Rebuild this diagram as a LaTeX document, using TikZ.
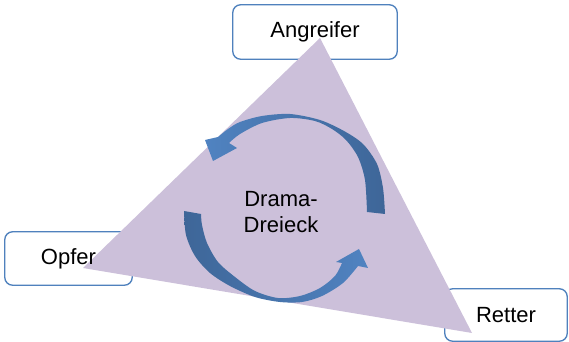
\documentclass[tikz,border=0pt]{standalone}
\usepackage{fontspec}
\setmainfont{Liberation Sans}
\definecolor{trifill}{RGB}{204,192,218}
\definecolor{boxline}{RGB}{79,129,189}
\definecolor{arrlight}{RGB}{80,131,193}
\definecolor{arrdark}{RGB}{62,102,152}
\pgfdeclarelayer{back}
\pgfdeclarelayer{mid}
\pgfsetlayers{back,mid,main}
\begin{document}
\begin{tikzpicture}[x=0.75pt,y=-0.75pt,
  lbl/.style={font=\fontsize{16.5}{19.5}\selectfont, inner sep=0pt, align=center},
  frame/.style={draw=boxline, line width=1pt, fill=white, rounded corners=6pt},
  tri/.style={fill=trifill, draw=none},
  arr/.style={draw=none}]
\useasboundingbox (0,0) rectangle (569,342);

% role nodes (text on top layer, frames drawn behind)
\node[lbl, minimum width=123pt, minimum height=40.5pt] (ang) at (315,32) {Angreifer};
\node[lbl, minimum width=95.25pt, minimum height=39.75pt] (opf) at (68.5,258.5) {Opfer};
\node[lbl, minimum width=91.5pt, minimum height=39pt] (ret) at (506,315) {Retter};
\node[lbl] (dd) at (281,212) {Drama-\\Dreieck};

\begin{pgfonlayer}{back}
  \draw[frame] (ang.south west) rectangle (ang.north east);
  \draw[frame] (opf.south west) rectangle (opf.north east);
  \draw[frame] (ret.south west) rectangle (ret.north east);
\end{pgfonlayer}

\begin{pgfonlayer}{mid}
  \coordinate (tA) at (320,38);
  \coordinate (tO) at (83,268);
  \coordinate (tR) at (472,333);
  \fill[tri] (tA) -- (tO) -- (tR) -- cycle;

  % upper arrow
  \path[arr, left color=arrlight, right color=arrdark]
    plot[smooth] coordinates {(385,214) (383,188) (377,164) (363,144) (344,131) (320,120) (290,114) (262,116) (240,122) (228,129) (218,137)}
    -- (205,140) -- (213,161) -- (237,148)
    -- plot[smooth] coordinates {(229,143) (240,134) (262,123) (290,118) (315,121) (332,129) (346,140) (358,157) (365,180) (367,212)}
    -- cycle;

  % lower arrow
  \path[arr, left color=arrdark, right color=arrlight]
    plot[smooth] coordinates {(184,211) (186,235) (195,256) (210,273) (230,286) (255,297) (280,302) (302,302) (322,296) (343,283) (358,266)}
    -- (368,268) -- (359,249) -- (336,262)
    -- plot[smooth] coordinates {(342,263) (335,276) (320,288) (300,296) (278,298) (255,291) (235,277) (218,262) (207,243) (202,225) (201,214)}
    -- cycle;
\end{pgfonlayer}
\end{tikzpicture}
\end{document}
